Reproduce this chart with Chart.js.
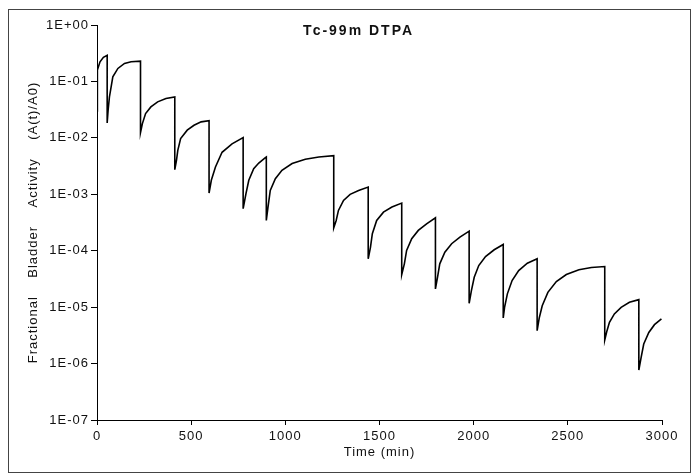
<!DOCTYPE html>
<html lang="en">

<head>
  <meta charset="UTF-8">
  <title>Tc-99m DTPA</title>
  <script src="https://cdn.jsdelivr.net/npm/chart.js"></script>
  <style>
    html, body { margin: 0; padding: 0; background: #fff; }
    #wrap { width: 697px; height: 476px; }
  </style>
</head>

<body>
  <div id="wrap"><canvas id="bladderChart" width="697" height="476"></canvas></div>

  <script>
    // Time (min) and fractional bladder activity A(t)/A0.
    // Each void shows as two points at the same time (peak, then residual).
    const times = [
      0, 1, 3, 16, 34, 54,
      54, 59, 66, 84, 111, 146, 181, 231,
      231, 241, 258, 286, 322, 366, 413,
      413, 422, 429, 444, 479, 515, 553, 595,
      595, 607, 629, 664, 717, 776,
      776, 791, 806, 832, 859, 894, 899,
      899, 908, 920, 947, 982, 1036, 1106, 1178, 1257,
      1257, 1270, 1282, 1309, 1344, 1389, 1440,
      1440, 1452, 1462, 1485, 1521, 1566, 1618,
      1618, 1632, 1644, 1671, 1706, 1750, 1797,
      1797, 1808, 1820, 1847, 1883, 1927, 1976,
      1976, 1988, 2003, 2027, 2063, 2109, 2157,
      2157, 2164, 2179, 2204, 2239, 2285, 2337,
      2337, 2348, 2364, 2394, 2439, 2492, 2559, 2625, 2696,
      2696, 2708, 2721, 2747, 2783, 2827, 2877,
      2877, 2889, 2903, 2930, 2960, 2997
    ];
    const activity = [
      0.03, 0.07, 0.16, 0.223, 0.267, 0.29,
      0.0184, 0.031, 0.053, 0.121, 0.170, 0.209, 0.223, 0.229,
      0.0124, 0.0179, 0.027, 0.0354, 0.0434, 0.0499, 0.0533,
      0.00273, 0.0040, 0.006, 0.0097, 0.0137, 0.0167, 0.0192, 0.0201,
      0.00105, 0.00177, 0.00304, 0.00555, 0.00785, 0.0101,
      0.000555, 0.00103, 0.00177, 0.00285, 0.00358, 0.00447, 0.00458,
      0.000344, 0.000593, 0.00117, 0.00189, 0.00266, 0.0035, 0.00417, 0.00458, 0.00485,
      0.000255, 0.000344, 0.000518, 0.00078, 0.000996, 0.00117, 0.00134,
      7.18e-5, 1.15e-4, 2.0e-4, 3.44e-4, 4.83e-4, 5.93e-4, 6.98e-4,
      3.78e-5, 5.85e-5, 1.01e-4, 1.63e-4, 2.29e-4, 3.0e-4, 3.84e-4,
      2.1e-5, 3.38e-5, 5.85e-5, 9.4e-5, 1.33e-4, 1.74e-4, 2.22e-4,
      1.17e-5, 1.96e-5, 3.38e-5, 5.46e-5, 7.88e-5, 1.04e-4, 1.29e-4,
      6.43e-6, 9.9e-6, 1.72e-5, 2.96e-5, 4.45e-5, 6.0e-5, 7.18e-5,
      3.83e-6, 6.38e-6, 1.06e-5, 1.83e-5, 2.84e-5, 3.78e-5, 4.6e-5, 5.04e-5, 5.24e-5,
      2.61e-6, 3.83e-6, 5.37e-6, 7.57e-6, 9.9e-6, 1.22e-5, 1.36e-5,
      7.66e-7, 1.28e-6, 2.22e-6, 3.56e-6, 4.89e-6, 6.17e-6
    ];

    const xTicks = [0, 500, 1000, 1500, 2000, 2500, 3000];
    const yTicks = [1e-7, 1e-6, 1e-5, 1e-4, 1e-3, 1e-2, 1e-1, 1];
    const yTickLabels = ['1E-07', '1E-06', '1E-05', '1E-04', '1E-03', '1E-02', '1E-01', '1E+00'];

    const chartTitle = 'Tc-99m DTPA';
    const xTitle = 'Time (min)';
    const yTitle = 'Fractional    Bladder    Activity    (A(t)/A0)';

    const FONT = "'Liberation Sans', Arial, sans-serif";
    const INK = '#111';

    // frame, spaced lettering and the title inside the plot
    const decor = {
      id: 'decor',
      beforeDraw(chart) {
        const ctx = chart.ctx;
        ctx.letterSpacing = '1px';
        ctx.save();
        ctx.fillStyle = '#fff';
        ctx.fillRect(0, 0, chart.width, chart.height);
        ctx.strokeStyle = '#444';
        ctx.lineWidth = 1;
        ctx.strokeRect(8.5, 9.5, 682, 463);
        ctx.restore();
      },
      afterDraw(chart) {
        const ctx = chart.ctx;
        const a = chart.chartArea;
        ctx.save();
        ctx.letterSpacing = '2px';
        ctx.font = 'bold 14px ' + FONT;
        ctx.fillStyle = INK;
        ctx.textAlign = 'center';
        ctx.textBaseline = 'middle';
        ctx.fillText(chartTitle, a.left + (a.right - a.left) * 0.463, a.top + 6);
        ctx.restore();
      }
    };

    new Chart(document.getElementById('bladderChart'), {
      type: 'line',
      data: {
        datasets: [{
          data: times.map((t, i) => ({ x: t, y: activity[i] })),
          borderColor: '#000',
          borderWidth: 1.6,
          pointRadius: 0,
          tension: 0,
          fill: false
        }]
      },
      options: {
        responsive: false,
        animation: false,
        layout: { padding: { left: 10, right: 35, top: 25, bottom: 8 } },
        plugins: {
          legend: { display: false },
          tooltip: { enabled: false }
        },
        scales: {
          x: {
            type: 'linear',
            min: 0,
            max: 3000,
            afterBuildTicks: s => { s.ticks = xTicks.map(v => ({ value: v })); },
            afterFit: s => { s.height = 48; },
            grid: { drawOnChartArea: false, drawTicks: true, tickLength: 5, color: '#000' },
            border: { display: true, color: '#000', width: 1 },
            ticks: { color: INK, font: { family: FONT, size: 13 }, padding: 4, maxRotation: 0, callback: v => String(v) },
            title: { display: true, text: xTitle, color: INK, font: { family: FONT, size: 13 }, padding: { top: 0, bottom: 8 } }
          },
          y: {
            type: 'logarithmic',
            min: 1e-7,
            max: 1,
            afterBuildTicks: s => { s.ticks = yTicks.map(v => ({ value: v })); },
            afterFit: s => { s.width = 87; },
            grid: { drawOnChartArea: false, drawTicks: true, tickLength: 6, color: '#000' },
            border: { display: true, color: '#000', width: 1 },
            ticks: {
              color: INK,
              font: { family: FONT, size: 13 },
              padding: 2,
              callback: v => {
                const i = yTicks.findIndex(t => Math.abs(Math.log10(t) - Math.log10(v)) < 1e-6);
                return i >= 0 ? yTickLabels[i] : '';
              }
            },
            title: { display: true, text: yTitle, color: INK, font: { family: FONT, size: 13 }, padding: { top: 16, bottom: 0 } }
          }
        }
      },
      plugins: [decor]
    });
  </script>
</body>

</html>
